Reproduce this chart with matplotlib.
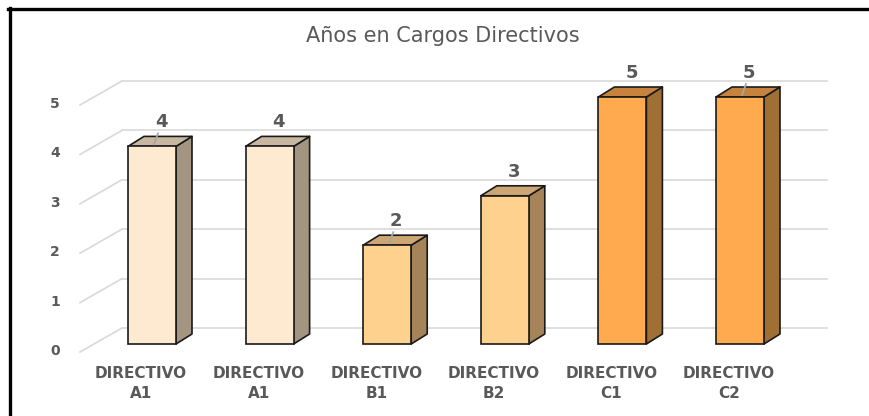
import matplotlib.pyplot as plt
from matplotlib.patches import Polygon
from matplotlib.lines import Line2D

categories = ["DIRECTIVO\nA1", "DIRECTIVO\nA1", "DIRECTIVO\nB1",
              "DIRECTIVO\nB2", "DIRECTIVO\nC1", "DIRECTIVO\nC2"]
values = [4, 4, 2, 3, 5, 5]
yticks = [0, 1, 2, 3, 4, 5]
title = "Años en Cargos Directivos"

front_colors = ["#FEEAD0", "#FEEAD0", "#FED18E", "#FED18E", "#FFAA4F", "#FFAA4F"]
top_colors = ["#C9B8A1", "#C9B8A1", "#CCA674", "#CCA674", "#C7823E", "#C7823E"]
side_colors = ["#A39582", "#A39582", "#A5845A", "#A5845A", "#A06F34", "#A06F34"]

text_color = "#595959"
grid_color = "#D9D9D9"
edge = "#1A1A1A"

W, H = 869, 416
fig = plt.figure(figsize=(W / 100, H / 100), dpi=100)
# axes = front plane of the bars
ax = fig.add_axes([93.2 / W, (H - 344) / H, 705.6 / W, 247 / H])
ax.set_xlim(-0.5, len(values) - 0.5)
ax.set_ylim(0, 5)
ax.axis("off")

inv = ax.transData.inverted()
p0 = ax.transData.transform((0, 0))
p1 = ax.transData.transform((1, 1))


def dx(p):
    return p / (p1[0] - p0[0])


def dy(p):
    return p / (p1[1] - p0[1])


def px_x(p):
    return inv.transform((p, 0))[0]


# back wall gridlines + floor slants
xb0, xb1, xf = px_x(122), px_x(827), px_x(80)
for v in yticks:
    yb = v + dy(16)
    ax.add_line(Line2D([xb0, xb1], [yb, yb], color=grid_color, lw=1.2, zorder=1, clip_on=False))
    ax.add_line(Line2D([xf, xb0], [v - dy(8), yb], color=grid_color, lw=1.2, zorder=1, clip_on=False))
    ax.text(px_x(55), v - dy(7), str(v), ha="center", va="center",
            fontsize=10, fontweight="bold", color=text_color, clip_on=False)

# 3d-looking bars
w = dx(48)
ddx, ddy = dx(16), dy(10)
for i, v in enumerate(values):
    xl, xr = i - w / 2, i + w / 2
    ax.bar(i, v, width=w, color=front_colors[i], edgecolor=edge, lw=1.2, zorder=3, clip_on=False)
    side = Polygon([(xr, 0), (xr + ddx, ddy), (xr + ddx, v + ddy), (xr, v)], closed=True,
                   facecolor=side_colors[i], edgecolor=edge, lw=1.2, zorder=2,
                   joinstyle="round", clip_on=False)
    top = Polygon([(xl, v), (xl + ddx, v + ddy), (xr + ddx, v + ddy), (xr, v)], closed=True,
                  facecolor=top_colors[i], edgecolor=edge, lw=1.2, zorder=2,
                  joinstyle="round", clip_on=False)
    ax.add_patch(side)
    ax.add_patch(top)
    ax.text(i + dx(9), v + dy(24), str(v), ha="center", va="center",
            fontsize=13, fontweight="bold", color=text_color, zorder=5, clip_on=False)
    ax.text(i - dx(11), -dy(22), categories[i], ha="center", va="top",
            fontsize=11, fontweight="bold", color=text_color, linespacing=1.4, clip_on=False)

# small leader lines on a few labels
for i in [0, 2, 5]:
    v = values[i]
    ax.add_line(Line2D([i + dx(6), i + dx(2)], [v + dy(13), v + dy(2)],
                       color="#A6A6A6", lw=1.3, zorder=4, clip_on=False))

fig.text(443 / W, 1 - 36 / H, title, ha="center", va="center", fontsize=15, color=text_color)

# chart border (left and top edges visible)
fig.add_artist(Line2D([9.5 / W, 9.5 / W], [0, 1 - 8 / H], color="black", lw=2.4,
                      transform=fig.transFigure))
fig.add_artist(Line2D([8 / W, 1], [1 - 8.5 / H, 1 - 8.5 / H], color="black", lw=2.4,
                      transform=fig.transFigure))

fig.savefig("out.png", dpi=100)
